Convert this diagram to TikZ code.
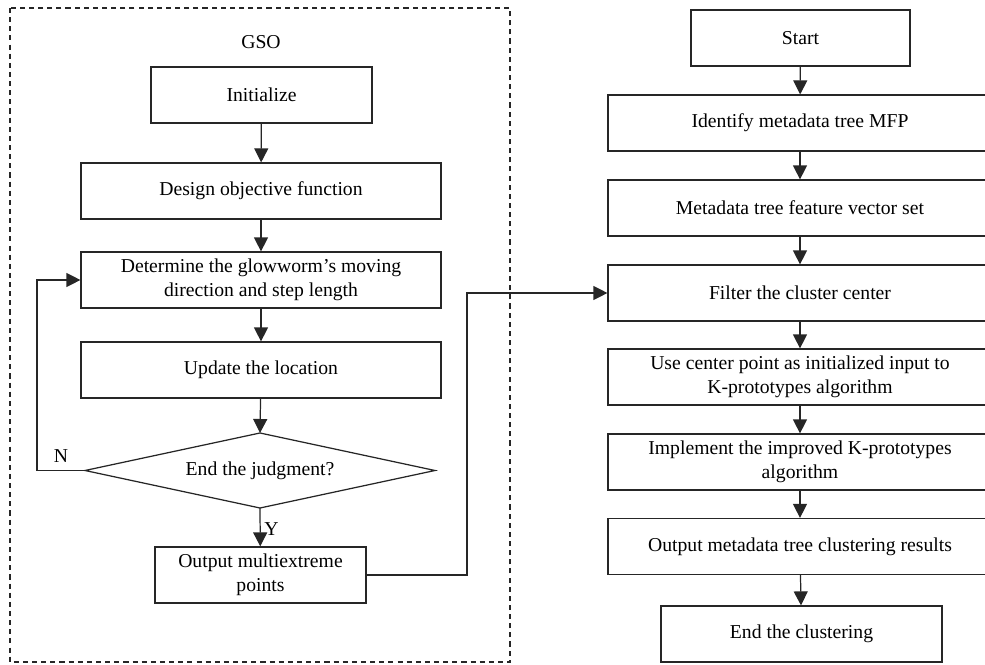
\documentclass[tikz,border=0pt]{standalone}
\usepackage{fontspec}
\setmainfont{Liberation Serif}
\usetikzlibrary{shapes.geometric,arrows.meta,positioning,calc}

\tikzset{
  stepbox/.style={draw=black!85,line width=0.7pt,minimum height=1.12cm,align=center,inner sep=2pt},
  flow/.style={draw=black!85,line width=0.7pt,-{Triangle[length=0.28cm,width=0.28cm]}},
  plainline/.style={draw=black!85,line width=0.7pt}
}

\begin{document}
\begin{tikzpicture}[x=0.02cm,y=-0.02cm,font=\fontsize{11.2}{13.6}\selectfont]
  \useasboundingbox (0,0) rectangle (985,665);
  % GSO part inside the dashed frame
  \draw[black!85,line width=0.6pt,dash pattern=on 2.9pt off 2.3pt] (10,8) rectangle (510,662);
  \node (gso) at (261,42) {GSO};
  \node[stepbox,minimum width=4.42cm] (init) at (261.5,95) {Initialize};
  \node[stepbox,minimum width=7.2cm] (design) at (261,191) {Design objective function};
  \node[stepbox,minimum width=7.2cm] (determine) at (261,280) {Determine the glowworm’s moving\\direction and step length};
  \node[stepbox,minimum width=7.2cm] (update) at (261,370) {Update the location};
  % decision diamond drawn from its corners
  \coordinate (jtop) at (260,433);
  \coordinate (jright) at (435,470.5);
  \coordinate (jbot) at (260,508);
  \coordinate (jleft) at (85,470.5);
  \draw[plainline] (jtop) -- (jright) -- (jbot) -- (jleft) -- cycle;
  \node (judge) at (260,470.5) {End the judgment?};
  \node[stepbox,minimum width=4.22cm] (output) at (260.5,575) {Output multiextreme\\points};
  \coordinate (nloop) at (37,470.5);
  \coordinate (jog) at (467,575);

  % clustering part
  \node[stepbox,minimum width=4.38cm] (start) at (800.5,38) {Start};
  \node[stepbox,minimum width=7.68cm] (identify) at (800,123) {Identify metadata tree MFP};
  \node[stepbox,minimum width=7.68cm] (featset) at (800,208) {Metadata tree feature vector set};
  \node[stepbox,minimum width=7.68cm] (filter) at (800,293) {Filter the cluster center};
  \node[stepbox,minimum width=7.68cm] (usecp) at (800,377) {Use center point as initialized input to\\K-prototypes algorithm};
  \node[stepbox,minimum width=7.68cm] (impl) at (800,462) {Implement the improved K-prototypes\\algorithm};
  \node[stepbox,minimum width=7.68cm] (results) at (800,546.5) {Output metadata tree clustering results};
  \node[stepbox,minimum width=5.62cm] (endc) at (801.5,634) {End the clustering};

  \draw[flow] (init) -- (design);
  \draw[flow] (design) -- (determine);
  \draw[flow] (determine) -- (update);
  \draw[flow] (update) -- (jtop);
  \draw[flow] (jbot) -- node[right,pos=0.55,inner sep=2pt] {Y} (output);
  \draw[flow] (jleft) -- node[above,pos=0.5,yshift=1pt] {N} (nloop) |- (determine.west);
  \draw[flow] (output.east) -- (jog) |- (filter.west);

  \draw[flow] (start) -- (identify);
  \draw[flow] (identify) -- (featset);
  \draw[flow] (featset) -- (filter);
  \draw[flow] (filter) -- (usecp);
  \draw[flow] (usecp) -- (impl);
  \draw[flow] (impl) -- (results);
  \draw[flow] (results) -- (endc);
\end{tikzpicture}
\end{document}
